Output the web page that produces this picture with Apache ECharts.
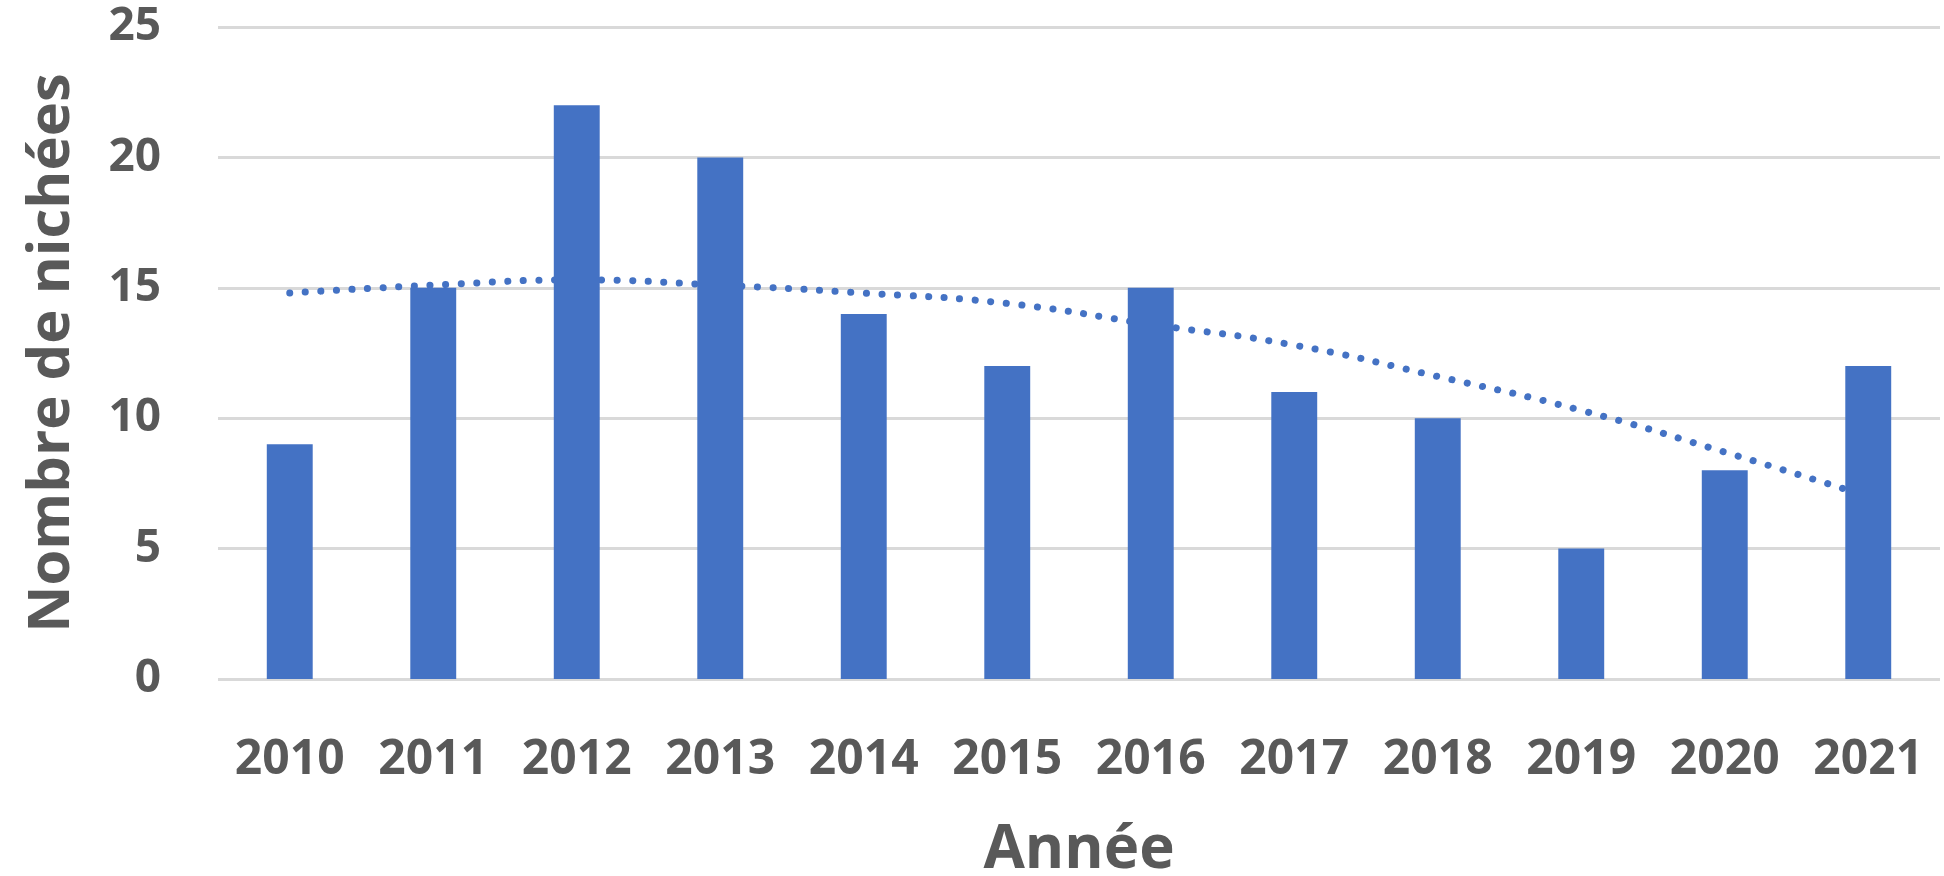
<!DOCTYPE html>
<html>
<head>
<meta charset="utf-8">
<script src="https://cdn.jsdelivr.net/npm/echarts@6/dist/echarts.min.js"></script>
<style>
html,body{margin:0;padding:0;background:#fff;}
#c{width:1944px;height:876px;}
</style>
</head>
<body>
<div id="c"></div>
<script>
const years = ['2010','2011','2012','2013','2014','2015','2016','2017','2018','2019','2020','2021'];
const nichees = [9, 15, 22, 20, 14, 12, 15, 11, 10, 5, 8, 12];
const tendance = [14.8, 15.1, 15.3, 15.1, 14.8, 14.4, 13.6, 12.8, 11.6, 10.3, 8.7, 7.0];
const yTicks = [0, 5, 10, 15, 20, 25];

const textColor = '#595959';
const font = 'Open Sans';
const chart = echarts.init(document.getElementById('c'));
chart.setOption({
  animation: false,
  backgroundColor: '#ffffff',
  grid: { left: 218, right: 4, top: 27, bottom: 197, outerBoundsMode: 'none', containLabel: false },
  xAxis: {
    type: 'category',
    data: years,
    axisLine: { show: false },
    axisTick: { show: false },
    axisLabel: { color: textColor, fontFamily: font, fontWeight: 'bold', fontSize: 48, margin: 57 },
    name: 'Année',
    nameLocation: 'middle',
    nameGap: 142,
    nameTextStyle: { color: textColor, fontFamily: font, fontWeight: 'bold', fontSize: 60 }
  },
  yAxis: {
    type: 'value',
    min: yTicks[0],
    max: yTicks[yTicks.length - 1],
    interval: 5,
    axisLine: { show: false },
    axisTick: { show: false },
    splitLine: { lineStyle: { color: '#D9D9D9', width: 3 } },
    axisLabel: { color: textColor, fontFamily: font, fontWeight: 'bold', fontSize: 46, margin: 57 },
    name: 'Nombre de nichées',
    nameLocation: 'middle',
    nameGap: 137,
    nameTextStyle: { color: textColor, fontFamily: font, fontWeight: 'bold', fontSize: 58 }
  },
  series: [
    {
      type: 'line',
      data: tendance,
      smooth: true,
      symbol: 'none',
      z: 1,
      lineStyle: { color: '#4472C4', width: 7, type: [0.1, 15.5], cap: 'round' }
    },
    {
      type: 'bar',
      data: nichees,
      barWidth: '32%',
      z: 2,
      itemStyle: { color: '#4472C4' }
    }
  ]
});
</script>
</body>
</html>
